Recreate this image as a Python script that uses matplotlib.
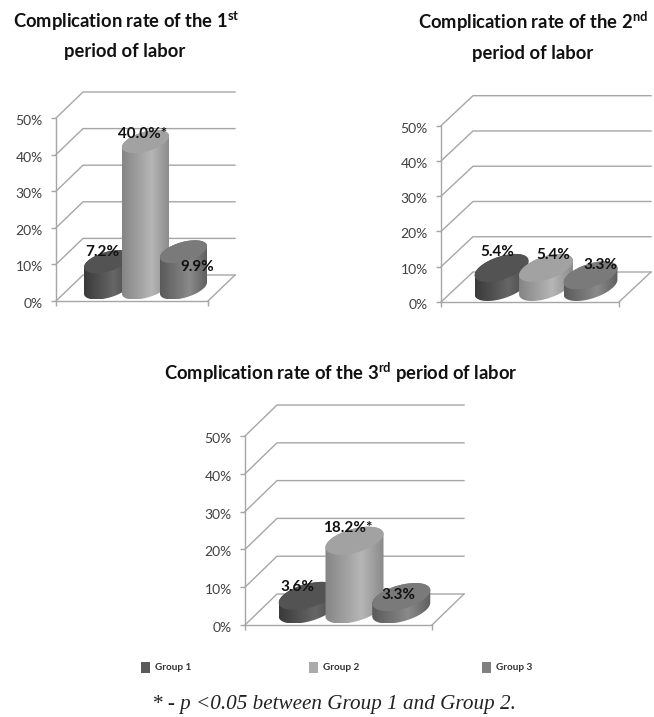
import numpy as np
import matplotlib
matplotlib.use("Agg")
import matplotlib.pyplot as plt
from matplotlib.colors import LinearSegmentedColormap
from matplotlib.patches import Polygon, Rectangle
from matplotlib.transforms import ScaledTranslation

plt.rcParams.update({
    "font.family": ["Lato", "DejaVu Sans"],
    "mathtext.fontset": "custom",
    "mathtext.rm": "Lato",
    "mathtext.bf": "Lato:bold",
})

W, H = 654, 717

# ---- data ----
groups = ["Group 1", "Group 2", "Group 3"]
period1_values = [7.2, 40.0, 9.9]
period2_values = [5.4, 5.4, 3.3]
period3_values = [3.6, 18.2, 3.3]
period1_labels = ["7.2%", "40.0%*", "9.9%"]
period2_labels = ["5.4%", "5.4%", "3.3%"]
period3_labels = ["3.6%", "18.2%*", "3.3%"]
y_ticks = [0, 10, 20, 30, 40, 50]
y_tick_labels = ["0%", "10%", "20%", "30%", "40%", "50%"]
footnote = "* - p <0.05 between Group 1 and Group 2."

# ---- styles ----
GRID = "#a6a6a6"
TOP = ["#535353", "#a2a2a2", "#7a7a7a"]
BODY = [["#3a3a3a", "#666666", "#474747"],
        ["#858585", "#b6b6b6", "#8a8a8a"],
        ["#5a5a5a", "#8a8a8a", "#5e5e5e"]]
LEGEND = ["#5a5a5a", "#ababab", "#808080"]

fig = plt.figure(figsize=(W / 100, H / 100), dpi=100, facecolor="white")
over = fig.add_axes([0, 0, 1, 1], zorder=0)
over.set_xlim(0, W)
over.set_ylim(H, 0)
over.axis("off")


def chart(left, right, y50, y0, depth, half_w, half_d, values, labels, offsets):
    ax = fig.add_axes([left / W, 1 - y0 / H, (right - left) / W, (y0 - y50) / H],
                      facecolor="none", zorder=1)
    xlim = (-1, 3)
    ylim = (0, 50)
    sx = (xlim[1] - xlim[0]) / (right - left)
    sy = (ylim[1] - ylim[0]) / (y0 - y50)
    ddx, ddy = depth[0] * sx, depth[1] * sy

    # walls and floor
    for t in y_ticks:
        ax.plot([xlim[0], xlim[0] + ddx, xlim[1] + ddx], [t, t + ddy, t + ddy],
                color=GRID, lw=1.0, clip_on=False, zorder=1)
    ax.plot([xlim[1], xlim[1] + ddx], [0, ddy], color=GRID, lw=1.0, clip_on=False, zorder=1)

    # cylinders
    tr = np.arctan2(half_d, half_w)
    arc_top = np.linspace(tr, tr + np.pi, 80)
    arc_bot = np.linspace(tr + np.pi, tr + 2 * np.pi, 80)
    full = np.linspace(0, 2 * np.pi, 160)

    def ring(t, i, v):
        x = i + ddx / 2 + (half_w * np.cos(t) + half_d * np.sin(t)) * sx
        y = v + ddy / 2 + half_d * np.sin(t) * sy
        return np.column_stack([x, y])

    for i, v in enumerate(values):
        z = 3 + i
        outline = np.vstack([ring(arc_top, i, v), ring(arc_bot, i, 0)])
        clip = Polygon(outline, closed=True, transform=ax.transData)
        cmap = LinearSegmentedColormap.from_list("b", [(0, BODY[i][0]), (0.62, BODY[i][1]), (1, BODY[i][2])])
        im = ax.imshow(np.linspace(0, 1, 128).reshape(1, -1), cmap=cmap, aspect="auto",
                       extent=(outline[:, 0].min(), outline[:, 0].max(),
                               outline[:, 1].min(), outline[:, 1].max()),
                       interpolation="bilinear", zorder=z)
        im.set_clip_path(clip)
        ax.add_patch(Polygon(ring(full, i, v), closed=True, facecolor=TOP[i],
                             edgecolor="none", zorder=z + 0.1))

    for i, (v, s, off) in enumerate(zip(values, labels, offsets)):
        ax.annotate(s, xy=(i, v), xytext=off, textcoords="offset pixels", ha="center",
                    va="center", fontsize=11, fontweight="bold", color="#111111",
                    annotation_clip=False, zorder=10)

    ax.set_xlim(*xlim)
    ax.set_ylim(*ylim)
    ax.set_xticks(list(xlim))
    ax.set_xticklabels([])
    ax.set_yticks(y_ticks)
    ax.set_yticklabels(y_tick_labels, fontsize=10, color="#404040")
    ax.tick_params(axis="x", color=GRID, length=3.5, width=1.0)
    ax.tick_params(axis="y", color=GRID, length=3.5, width=1.0, pad=6)
    nudge = ScaledTranslation(0, -2 / 100, fig.dpi_scale_trans)
    for lab in ax.get_yticklabels():
        lab.set_transform(lab.get_transform() + nudge)
    for name in ("top", "right"):
        ax.spines[name].set_visible(False)
    for name in ("left", "bottom"):
        ax.spines[name].set_color(GRID)
        ax.spines[name].set_linewidth(1.0)
    return ax


chart(56, 208, 118, 301, (27, 26), 20.5, 11.5, period1_values, period1_labels,
      [(8, 23), (11, 21), (27, -2)])
chart(441, 619, 125.7, 302, (32, 30), 23, 14, period2_values, period2_labels,
      [(11.5, 31), (23, 28), (25.5, 25)])
chart(245, 432, 436, 625, (32, 31), 25.4, 14, period3_values, period3_labels,
      [(6, 24), (9, 28), (13, 17.5)])

title_kw = dict(ha="center", va="center", fontsize=13.2, fontweight="bold", color="#111111")
over.text(126, 21, r"Complication rate of the 1$^{\mathbf{st}}$", **title_kw)
over.text(125, 52, "period of labor", **title_kw)
over.text(533, 22, r"Complication rate of the 2$^{\mathbf{nd}}$", **title_kw)
over.text(533, 53, "period of labor", **title_kw)
over.text(341, 373, r"Complication rate of the 3$^{\mathbf{rd}}$ period of labor", **title_kw)

for name, color, x in zip(groups, LEGEND, (141, 309, 482)):
    over.add_patch(Rectangle((x, 662), 9, 11, facecolor=color, edgecolor="none"))
    over.text(x + 14, 667.5, name, ha="left", va="center", fontsize=7.2,
              fontweight="bold", color="#333333")

over.text(334, 704, footnote, ha="center", va="center", fontsize=15.2,
          family="Liberation Serif", style="italic", color="#222222")

fig.savefig("out.png", dpi=100)
